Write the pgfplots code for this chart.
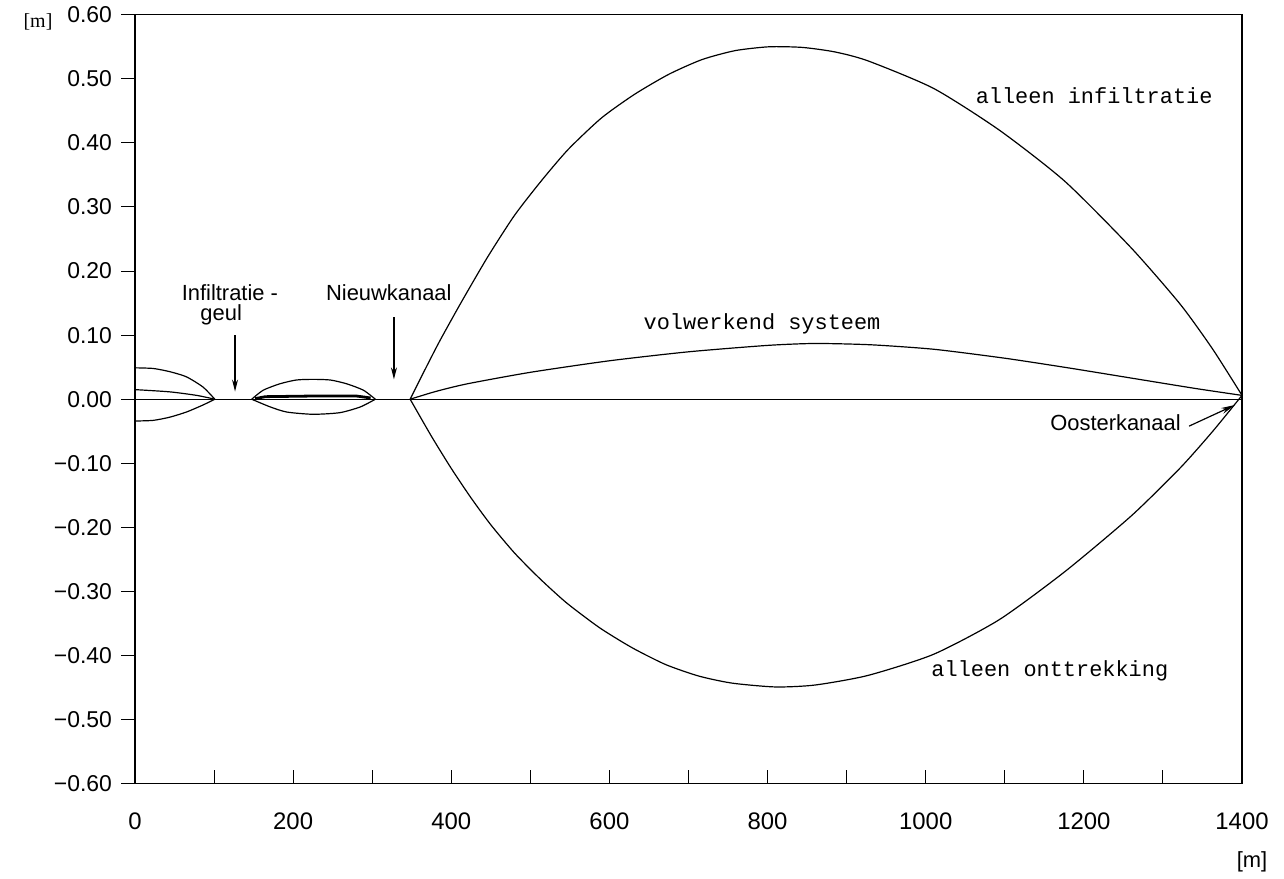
\documentclass[border=0pt]{standalone}
\usepackage{fontspec}
\setmainfont{Liberation Sans}
\newfontfamily\monof{Liberation Mono}
\newfontfamily\serf{Liberation Serif}
\usepackage{pgfplots}
\pgfplotsset{compat=1.18}
\usetikzlibrary{arrows.meta}
\begin{document}
\begin{tikzpicture}
\begin{axis}[
  name=ax,
  scale only axis,
  width=553.5bp, height=384.5bp,
  xmin=0, xmax=1400, ymin=-0.6, ymax=0.6,
  axis line style={line width=0.6pt},
  xtick={0,200,...,1400},
  xticklabels={0,200,400,600,800,1000,1200,1400},
  minor xtick={100,300,...,1300},
  ytick={-0.6,-0.5,...,0.6},
  yticklabels={−0.60,−0.50,−0.40,−0.30,−0.20,−0.10,0.00,0.10,0.20,0.30,0.40,0.50,0.60},
  x tick label style={font=\fontsize{12}{14}\selectfont, yshift=-11bp},
  y tick label style={font=\fontsize{11.5}{14}\selectfont, xshift=-1bp},
  xtick pos=bottom, ytick pos=left,
  xtick align=inside,
  ytick align=outside,
  major tick length=7bp,
  minor tick length=7bp,
  tick style={line width=0.5pt, black},
  clip=false,
]
% zero line
\addplot[black, line width=0.6pt, mark=none] coordinates {(0,0) (1400,0)};
% alleen infiltratie
\addplot[black, line width=0.6pt, smooth, tension=0.4] coordinates {
(348,0) (365,0.042) (385,0.090) (412,0.150) (446,0.222) (480,0.287)
(514,0.341) (548,0.390) (590,0.439) (632,0.476) (675,0.507) (717,0.530)
(759,0.544) (802,0.550) (844,0.549) (885,0.542) (927,0.528) (1010,0.485)
(1093,0.420) (1176,0.340) (1260,0.236) (1322,0.148) (1363,0.078) (1400,0.006)};
% volwerkend systeem
\addplot[black, line width=0.6pt, smooth, tension=0.4] coordinates {
(348,0) (380,0.012) (420,0.024) (500,0.042) (600,0.060) (700,0.074) (800,0.084)
(860,0.087) (930,0.085) (1010,0.078) (1100,0.064) (1180,0.049) (1260,0.033)
(1340,0.017) (1400,0.006)};
% alleen onttrekking
\addplot[black, line width=0.6pt, smooth, tension=0.4] coordinates {
(348,0) (375,-0.058) (400,-0.108) (425,-0.154) (450,-0.196) (480,-0.240)
(512,-0.280) (546,-0.318) (588,-0.357) (629,-0.388) (671,-0.414) (713,-0.432)
(755,-0.443) (810,-0.449) (860,-0.446) (927,-0.431) (1010,-0.398) (1093,-0.344)
(1176,-0.269) (1260,-0.182) (1322,-0.107) (1363,-0.050) (1400,0.006)};
% left part
\addplot[black, line width=0.6pt, smooth, tension=0.4] coordinates {(0,0.049) (23,0.048) (44,0.043) (65,0.035) (86,0.019) (101,0)};
\addplot[black, line width=0.6pt, smooth, tension=0.4] coordinates {(0,0.015) (44,0.0115) (78,0.006) (101,0)};
\addplot[black, line width=0.6pt, smooth, tension=0.4] coordinates {(0,-0.034) (23,-0.033) (44,-0.028) (65,-0.020) (86,-0.009) (101,0)};
% lens 147-304
\addplot[black, line width=0.6pt, smooth, tension=0.4] coordinates {(147.6,0) (162,0.014) (183,0.024) (204,0.030) (225,0.031) (247,0.030) (268,0.024) (289,0.014) (304,0)};
\addplot[black, line width=0.6pt, smooth, tension=0.4] coordinates {(147.6,0) (171,-0.012) (192,-0.020) (225,-0.0235) (259,-0.021) (285,-0.012) (304,0)};
\addplot[black, line width=1.4pt] coordinates {(152,0.001) (165,0.004) (225,0.005) (280,0.005) (298,0.002)};
% annotations
\node[font=\fontsize{11}{13}\selectfont] at (axis cs:120,0.166) {Infiltratie -};
\node[font=\fontsize{11}{13}\selectfont] at (axis cs:109,0.131) {geul};
\node[font=\fontsize{11}{13}\selectfont] at (axis cs:321,0.166) {Nieuwkanaal};
\node[font=\fontsize{11}{13}\selectfont] at (axis cs:1240,-0.037) {Oosterkanaal};
\draw[-{Stealth[length=6bp,width=3bp]}, line width=0.6pt] (axis cs:126.5,0.100) -- (axis cs:126.5,0.012);
\draw[-{Stealth[length=6bp,width=3bp]}, line width=0.6pt] (axis cs:327.5,0.128) -- (axis cs:327.5,0.031);
\draw[-{Stealth[length=7bp,width=3bp]}, line width=0.6pt] (axis cs:1333,-0.042) -- (axis cs:1391,-0.009);
\node[font=\monof\fontsize{11}{13}\selectfont] at (axis cs:1213,0.474) {alleen infiltratie};
\node[font=\monof\fontsize{11}{13}\selectfont] at (axis cs:793,0.117) {volwerkend systeem};
\node[font=\monof\fontsize{11}{13}\selectfont] at (axis cs:1157,-0.424) {alleen onttrekking};
\end{axis}
\node[font=\serf\fontsize{10}{12}\selectfont] at ([xshift=-48.5bp,yshift=-3.5bp]ax.north west) {[m]};
\node[font=\fontsize{11}{12}\selectfont] at ([xshift=5bp,yshift=-39bp]ax.south east) {[m]};
\path ([xshift=-67.5bp,yshift=-47bp]ax.south west) rectangle ([xshift=21bp,yshift=6.5bp]ax.north east);
\end{tikzpicture}
\end{document}
